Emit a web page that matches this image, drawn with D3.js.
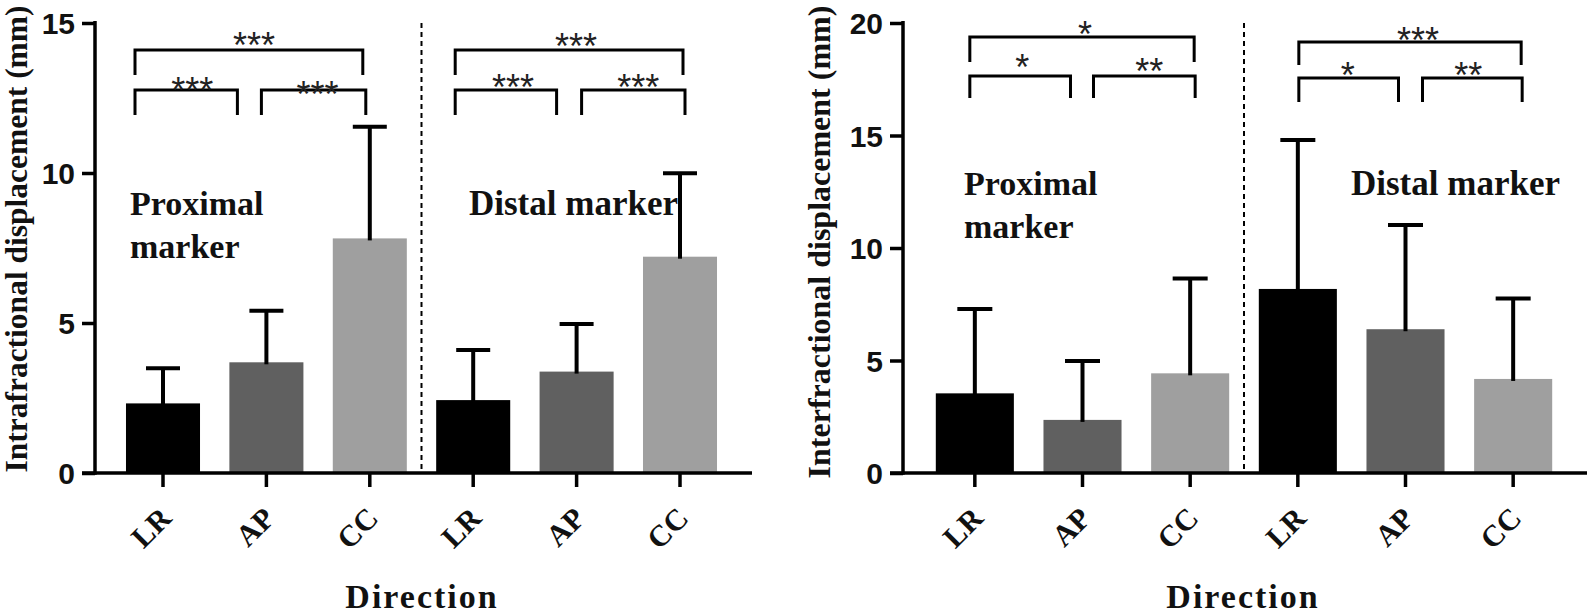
<!DOCTYPE html>
<html><head><meta charset="utf-8">
<script src="https://cdn.jsdelivr.net/npm/d3@7"></script>
<style>body{margin:0;background:#fff}svg{display:block}</style>
</head><body>
<script>
// ---------- DATA ----------
const categories = ["LR", "AP", "CC"];
const groups = ["Proximal", "Distal"];
const groupLabels = [["Proximal", "marker"], ["Distal marker"]];

const intraProxMean = [2.32, 3.69, 7.82];
const intraProxSD   = [1.17, 1.72, 3.72];
const intraDistMean = [2.43, 3.38, 7.21];
const intraDistSD   = [1.67, 1.59, 2.78];

const interProxMean = [3.54, 2.36, 4.43];
const interProxSD   = [3.75, 2.62, 4.22];
const interDistMean = [8.18, 6.39, 4.18];
const interDistSD   = [6.62, 4.63, 3.58];

const intraTicks = [0, 5, 10, 15];
const interTicks = [0, 5, 10, 15, 20];

const intraSig = [
  {group: "Proximal", a: "LR", b: "CC", label: "***", level: 14.1},
  {group: "Proximal", a: "LR", b: "AP", label: "***", level: 12.77},
  {group: "Proximal", a: "AP", b: "CC", label: "***", level: 12.77},
  {group: "Distal",   a: "LR", b: "CC", label: "***", level: 14.1},
  {group: "Distal",   a: "LR", b: "AP", label: "***", level: 12.77},
  {group: "Distal",   a: "AP", b: "CC", label: "***", level: 12.77}
];
const interSig = [
  {group: "Proximal", a: "LR", b: "CC", label: "*",   level: 19.38},
  {group: "Proximal", a: "LR", b: "AP", label: "*",   level: 17.64},
  {group: "Proximal", a: "AP", b: "CC", label: "**",  level: 17.64},
  {group: "Distal",   a: "LR", b: "CC", label: "***", level: 19.16},
  {group: "Distal",   a: "LR", b: "AP", label: "*",   level: 17.56},
  {group: "Distal",   a: "AP", b: "CC", label: "**",  level: 17.56}
];

// ---------- STYLE / LAYOUT ----------
const colors = {LR: "#000000", AP: "#606060", CC: "#9f9f9f"};
// bracket end offsets (px from band centre), drop (px), star lift (px) & shift
const intraSigStyle = [
  {d0: -28, d1: -7,  drop: 25, up: 13, dx: 5},
  {d0: -28, d1: -29, drop: 25, up: 8,  dx: 6},
  {d0: -5,  d1: -4,  drop: 25, up: 4,  dx: 4},
  {d0: -18, d1: 3,   drop: 25, up: 12, dx: 7},
  {d0: -18, d1: -20, drop: 25, up: 11, dx: 7},
  {d0: 5,   d1: 5,   drop: 25, up: 11, dx: 5}
];
const interSigStyle = [
  {d0: -5, d1: 4,   drop: 25, up: 11, dx: 3},
  {d0: -5, d1: -12, drop: 22, up: 17, dx: 2},
  {d0: 11, d1: 5,   drop: 22, up: 13, dx: 5},
  {d0: 1,  d1: 8,   drop: 23, up: 10, dx: 8},
  {d0: 1,  d1: -7,  drop: 24, up: 11, dx: -1},
  {d0: 17, d1: 9,   drop: 24, up: 11, dx: -4}
];

const panels = [
  {
    title: "Intrafractional displacement (mm)",
    means: [intraProxMean, intraDistMean], sds: [intraProxSD, intraDistSD],
    ticks: intraTicks, sig: intraSig, sigStyle: intraSigStyle,
    axisX: 95, xRange: [111.3, 731.7], axisEnd: 752, padding: 0.284,
    titleX: 27, titleY: 239, titleSize: 31.5,
    dirX: 422, capHalf: 17,
    labelPos: [{x: 130, y: 215, size: 34}, {x: 469, y: 215, size: 35}]
  },
  {
    title: "Interfractional displacement (mm)",
    means: [interProxMean, interDistMean], sds: [interProxSD, interDistSD],
    ticks: interTicks, sig: interSig, sigStyle: interSigStyle,
    axisX: 903, xRange: [921, 1567], axisEnd: 1587, padding: 0.275,
    titleX: 830, titleY: 242, titleSize: 32,
    dirX: 1243, capHalf: 17.5,
    labelPos: [{x: 964, y: 195, size: 34}, {x: 1351, y: 195, size: 35}]
  }
];

const yBottom = 473, yTop = 23;
const serif = "'Liberation Serif','Times New Roman',serif";
const sans = "'Liberation Sans',Arial,sans-serif";

const svg = d3.select("body").append("svg").attr("width", 1594).attr("height", 616);

panels.forEach(p => {
  const g = svg.append("g");
  const keys = [];
  groups.forEach(gr => categories.forEach(c => keys.push(gr + "-" + c)));
  const x = d3.scaleBand().domain(keys).range(p.xRange)
    .paddingInner(p.padding).paddingOuter(p.padding / 2);
  const y = d3.scaleLinear().domain([0, d3.max(p.ticks)]).range([yBottom, yTop]);
  const cx = k => x(k) + x.bandwidth() / 2;

  // group labels (under bars/error bars)
  groupLabels.forEach((lines, gi) => {
    const lp = p.labelPos[gi];
    lines.forEach((t, li) => {
      g.append("text").attr("x", lp.x).attr("y", lp.y + li * 43)
        .attr("font-family", serif).attr("font-weight", "bold")
        .attr("font-size", lp.size).attr("fill", "#111").text(t);
    });
  });

  // bars + error bars
  const rows = [];
  groups.forEach((gr, gi) => categories.forEach((c, ci) => {
    rows.push({key: gr + "-" + c, cat: c, mean: p.means[gi][ci], sd: p.sds[gi][ci]});
  }));
  g.selectAll("rect.bar").data(rows).join("rect").attr("class", "bar")
    .attr("x", d => x(d.key)).attr("width", x.bandwidth())
    .attr("y", d => y(d.mean)).attr("height", d => y(0) - y(d.mean))
    .attr("fill", d => colors[d.cat]);
  g.selectAll("line.err").data(rows).join("line").attr("class", "err")
    .attr("x1", d => cx(d.key)).attr("x2", d => cx(d.key))
    .attr("y1", d => y(d.mean) + 2).attr("y2", d => y(d.mean + d.sd))
    .attr("stroke", "#000").attr("stroke-width", 4);
  g.selectAll("line.cap").data(rows).join("line").attr("class", "cap")
    .attr("x1", d => cx(d.key) - p.capHalf).attr("x2", d => cx(d.key) + p.capHalf)
    .attr("y1", d => y(d.mean + d.sd)).attr("y2", d => y(d.mean + d.sd))
    .attr("stroke", "#000").attr("stroke-width", 4);

  // dashed divider
  const divX = (cx("Proximal-CC") + cx("Distal-LR")) / 2;
  g.append("line").attr("x1", divX).attr("x2", divX).attr("y1", yTop).attr("y2", yBottom)
    .attr("stroke", "#000").attr("stroke-width", 2).attr("stroke-dasharray", "5,4");

  // significance brackets
  p.sig.forEach((s, i) => {
    const st = p.sigStyle[i];
    const x0 = cx(s.group + "-" + s.a) + st.d0;
    const x1 = cx(s.group + "-" + s.b) + st.d1;
    const ly = y(s.level);
    g.append("path")
      .attr("d", `M${x0},${ly + st.drop}V${ly}H${x1}V${ly + st.drop}`)
      .attr("fill", "none").attr("stroke", "#000").attr("stroke-width", 3);
    const fs = 36;
    g.append("text").attr("x", (x0 + x1) / 2 + st.dx).attr("y", ly - st.up + 0.575 * fs)
      .attr("text-anchor", "middle").attr("font-family", sans)
      .attr("font-size", fs).attr("fill", "#222").text(s.label);
  });

  // y axis
  const ya = g.append("g").attr("transform", `translate(${p.axisX},0)`)
    .call(d3.axisLeft(y).tickValues(p.ticks).tickSize(13).tickSizeOuter(0).tickPadding(7));
  ya.select(".domain").attr("stroke-width", 3.5).attr("d", `M0,${yBottom + 1.75}V${yTop - 2}`);
  ya.selectAll(".tick line").attr("stroke-width", 3.5);
  ya.selectAll(".tick text").attr("font-family", sans).attr("font-weight", "bold")
    .attr("font-size", 30).attr("fill", "#111").attr("dy", "0.36em");

  // x axis
  const xa = g.append("g").attr("transform", `translate(0,${yBottom})`)
    .call(d3.axisBottom(x).tickSize(14).tickSizeOuter(0).tickFormat(k => k.split("-")[1]));
  xa.select(".domain").attr("stroke-width", 3.5)
    .attr("d", `M${p.axisX - 13},0H${p.axisEnd}`);
  xa.selectAll(".tick line").attr("stroke-width", 3.5);
  xa.selectAll(".tick text").attr("font-family", serif).attr("font-weight", "bold")
    .attr("font-size", 30).attr("fill", "#111")
    .attr("x", 0).attr("y", 0).attr("dy", 0).attr("text-anchor", "end")
    .attr("transform", "translate(10,47) rotate(-45)");

  // axis titles
  g.append("text").attr("transform", `translate(${p.titleX},${p.titleY}) rotate(-90)`)
    .attr("text-anchor", "middle").attr("font-family", serif).attr("font-weight", "bold")
    .attr("font-size", p.titleSize).attr("fill", "#111").text(p.title);
  g.append("text").attr("x", p.dirX).attr("y", 608).attr("text-anchor", "middle")
    .attr("font-family", serif).attr("font-weight", "bold").attr("font-size", 34)
    .attr("letter-spacing", "2px").attr("fill", "#111").text("Direction");
});
</script>
</body></html>
